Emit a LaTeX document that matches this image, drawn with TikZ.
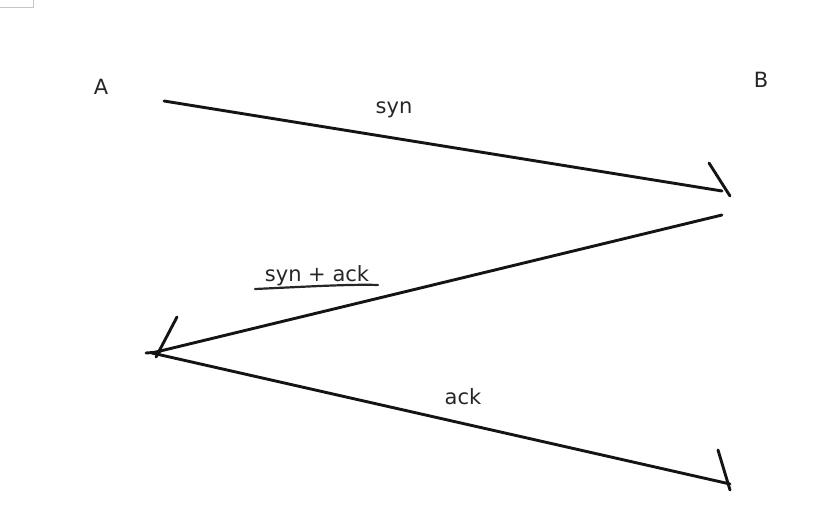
\documentclass[tikz,border=0pt]{standalone}
\usepackage{fontspec}
\setmainfont{DejaVu Sans}
\begin{document}
\begin{tikzpicture}[x=1pt,y=-1pt,
  msg/.style={line width=2.9pt,line cap=round,black!92},
  tickmark/.style={line width=2.9pt,line cap=round,black!92},
  lbl/.style={font=\fontsize{21}{24}\selectfont,text=black!85,inner sep=0pt}]
\useasboundingbox (0,0) rectangle (831,521);
\draw[gray!45,line width=1pt] (0,8) -- (33,8) -- (33,0);
\node[lbl] (A) at (101,87) {A};
\node[lbl] (B) at (761,80) {B};
\coordinate (a1) at (164,101);
\coordinate (b1) at (722,191);
\coordinate (b2) at (722,215);
\coordinate (a2) at (152,353);
\coordinate (b3) at (730,484);
\draw[msg] (a1) -- (b1);
\draw[tickmark] (709,163) -- (730,196);
\draw[msg] (b2) -- (a2);
\draw[tickmark] (177,317) -- (156,357);
\draw[tickmark] (146,353) -- (160,352);
\draw[msg] (a2) -- (b3);
\draw[tickmark] (718,450) -- (730,490);
\node[lbl] (syn) at (394,110) {syn};
\node[lbl] (synack) at (317,276) {syn + ack};
\draw[line width=2.2pt,black!85,line cap=round] (255,289) .. controls (300,287) and (350,284) .. (378,285);
\node[lbl] (ack) at (463,397) {ack};
\end{tikzpicture}
\end{document}
